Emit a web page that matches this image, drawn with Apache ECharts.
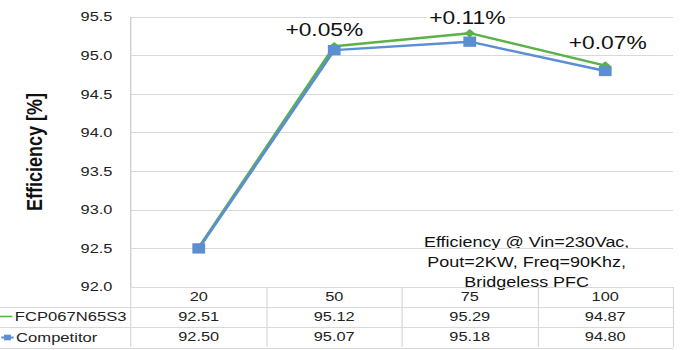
<!DOCTYPE html>
<html>
<head>
<meta charset="utf-8">
<script src="https://cdn.jsdelivr.net/npm/echarts@6/dist/echarts.min.js"></script>
<style>
  html, body { margin: 0; padding: 0; background: #fff; overflow: hidden; }
  /* The chart is laid out narrower and stretched horizontally to fill 689px */
  #chart { width: 556px; height: 350px; transform-origin: 0 0; transform: scaleX(1.2392); }
</style>
</head>
<body>
<div id="chart"></div>
<script>
// Load levels (% of rated power)
const loads = ['20', '50', '75', '100'];
// Measured efficiency [%]
const fcpEff = [92.51, 95.12, 95.29, 94.87];
const competitorEff = [92.50, 95.07, 95.18, 94.80];
// Efficiency gain callouts shown above the FCP points
const gainLabels = ['', '+0.05%', '+0.11%', '+0.07%'];
// Y axis ticks
const yMin = 92.0, yMax = 95.5, yStep = 0.5;

const seriesNames = ['FCP067N65S3', 'Competitor'];
const GREEN = '#5bb247';
const BLUE = '#5b8fd2';
const GRID = '#d9d9d9';
const FONT = '"Liberation Sans", Arial, sans-serif';
const PLOT_LEFT = 105.7;

const chart = echarts.init(document.getElementById('chart'), null, { renderer: 'svg' });

// Table rows under the plot are drawn as extra category axes
function tableAxis(values, offset, showLabels) {
  return {
    type: 'category',
    data: loads.map((c, i) => values ? values[i].toFixed(2) : c),
    position: 'bottom',
    offset: offset,
    boundaryGap: true,
    axisLine: { show: true, onZero: false, lineStyle: { color: GRID, width: 1 } },
    axisTick: { show: showLabels, length: 20, inside: false, lineStyle: { color: GRID } },
    axisLabel: {
      show: showLabels, margin: 10, color: '#222', fontSize: 13.2, fontFamily: FONT,
      verticalAlign: 'middle'
    },
    splitLine: { show: false }
  };
}

function legendRow(name, top, icon) {
  return {
    orient: 'horizontal',
    left: -5,
    top: top,
    itemWidth: 10,
    itemHeight: 7,
    itemGap: 0,
    textStyle: { fontSize: 13.4, color: '#222', fontFamily: FONT, padding: [0, 0, 0, -3] },
    data: [icon ? { name: name, icon: icon } : name],
    selectedMode: false
  };
}

// Per-point nudges for the gain callouts
const calloutOffsets = [[0, 0], [-8, 0], [-2, 1], [2, -6]];

const option = {
  animation: false,
  textStyle: { fontFamily: FONT },
  grid: { left: PLOT_LEFT, right: 12.9, top: 17, bottom: 63, containLabel: false },
  legend: [
    legendRow(seriesNames[0], 305, 'path://M0,3.2 L10,3.2 L10,4.8 L0,4.8 Z'),
    legendRow(seriesNames[1], 326)
  ],
  xAxis: [
    tableAxis(null, 0, true),
    tableAxis(fcpEff, 20, true),
    tableAxis(competitorEff, 40, true),
    tableAxis(null, 61, false)
  ],
  yAxis: {
    type: 'value',
    min: yMin,
    max: yMax,
    interval: yStep,
    name: 'Efficiency [%]',
    nameLocation: 'middle',
    nameGap: 69,
    nameTextStyle: { fontSize: 18, fontWeight: 'bold', color: '#111', fontFamily: FONT },
    axisLine: { show: true, lineStyle: { color: '#c8c8c8' } },
    axisTick: { show: false },
    axisLabel: {
      margin: 15, fontSize: 13.2, color: '#222', fontFamily: FONT,
      formatter: v => v.toFixed(1)
    },
    splitLine: { show: true, lineStyle: { color: GRID, width: 1 } }
  },
  series: [
    {
      name: seriesNames[0],
      type: 'line',
      xAxisIndex: 0,
      data: fcpEff.map((v, i) => ({
        value: v,
        label: { offset: calloutOffsets[i] }
      })),
      color: GREEN,
      lineStyle: { width: 2.4, color: GREEN },
      symbol: 'diamond',
      symbolSize: 8.5,
      itemStyle: { color: GREEN },
      z: 3,
      label: {
        show: true,
        position: 'top',
        distance: 3,
        formatter: p => gainLabels[p.dataIndex],
        fontSize: 18.4,
        color: '#111',
        fontFamily: FONT,
        backgroundColor: '#ffffff',
        padding: [1, 2, 1, 2]
      }
    },
    {
      name: seriesNames[1],
      type: 'line',
      xAxisIndex: 0,
      data: competitorEff,
      color: BLUE,
      lineStyle: { width: 2.4, color: BLUE },
      symbol: 'rect',
      symbolSize: 10.3,
      itemStyle: { color: BLUE },
      z: 4
    }
  ],
  graphic: [
    // Table frame lines extending into the row-header column
    { type: 'line', shape: { x1: 0, y1: 307.5, x2: PLOT_LEFT, y2: 307.5 }, style: { stroke: GRID, lineWidth: 1 } },
    { type: 'line', shape: { x1: 0, y1: 327.5, x2: PLOT_LEFT, y2: 327.5 }, style: { stroke: GRID, lineWidth: 1 } },
    { type: 'line', shape: { x1: 0, y1: 348.5, x2: PLOT_LEFT, y2: 348.5 }, style: { stroke: GRID, lineWidth: 1 } },
    {
      type: 'text',
      x: 425,
      y: 232,
      style: {
        text: 'Efficiency @ Vin=230Vac,\nPout=2KW, Freq=90Khz,\nBridgeless PFC',
        fontSize: 14.5,
        lineHeight: 20,
        fill: '#111',
        fontFamily: FONT,
        align: 'center',
        verticalAlign: 'top'
      }
    }
  ]
};

chart.setOption(option);
</script>
</body>
</html>
